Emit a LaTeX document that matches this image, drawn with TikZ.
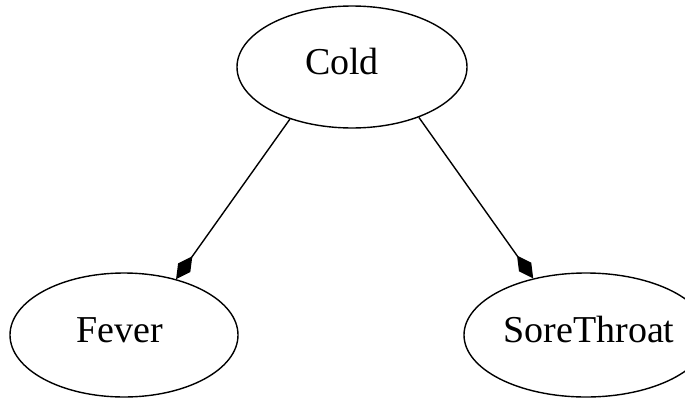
\documentclass[tikz,border=0pt]{standalone}
\usepackage{fontspec}
\setmainfont{Liberation Serif}
\usetikzlibrary{shapes.geometric,arrows.meta}
\begin{document}
\begin{tikzpicture}[x=1pt,y=-1pt,
  nd/.style={ellipse,draw,line width=1.4pt,inner sep=0pt,minimum height=122pt,text height=20pt,text depth=6pt,font=\fontsize{38}{44}\selectfont},
  ed/.style={line width=1.4pt,-{Diamond[length=28pt,width=15pt]}}]
\useasboundingbox (0,0) rectangle (685,399);
\node[nd,minimum width=230pt] (Cold) at (352,67) {\hspace*{-20pt}Cold};
\node[nd,minimum width=228pt,minimum height=124pt] (Fever) at (124,335) {\hspace*{-8pt}Fever};
\node[nd,minimum width=244pt,minimum height=124pt] (Sore) at (586,335) {SoreThroat\hspace*{-6pt}};
\draw[ed] (Cold.220) -- (Fever.47);
\draw[ed] (Cold.323) -- (Sore.133);
\end{tikzpicture}
\end{document}
